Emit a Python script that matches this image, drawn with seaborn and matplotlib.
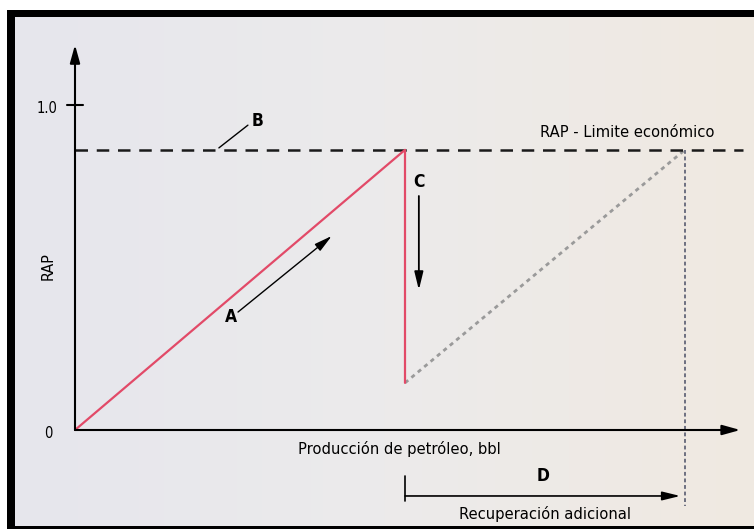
import numpy as np
import pandas as pd
import matplotlib
matplotlib.use("Agg")
import matplotlib.pyplot as plt
from matplotlib.patches import Rectangle
from matplotlib.colors import LinearSegmentedColormap
import seaborn as sns

# ---- data ----
x_red = [0.0, 5.0, 5.0]          # production, actual trend A then drop C
y_red = [0.0, 0.862, 0.145]      # RAP
x_new = [5.0, 9.24]              # new trend after treatment
y_new = [0.145, 0.862]
rap_limit = 0.862                # economic limit (B)
x_limit = 9.24                   # production at which new trend hits limit
ytick_vals = [0.0, 1.0]
ytick_labels = ["0", "1.0"]

sns.set_theme(style="white")
plt.rcParams['font.family'] = ['DejaVu Sans']
plt.rcParams['font.stretch'] = 'condensed'
plt.rcParams['text.color'] = 'black'

W, H = 754, 529
fig = plt.figure(figsize=(W / 100, H / 100), dpi=100)
fig.patch.set_facecolor("white")

# background panel with soft gradient
bg = fig.add_axes([15 / W, 3 / H, (W - 15) / W, (H - 17 - 3) / H])
cmap = LinearSegmentedColormap.from_list("bgc", ["#e6e6ed", "#ecebeb", "#f0e9e1"])
grad = np.linspace(0, 1, 256).reshape(1, -1)
bg.imshow(grad, aspect="auto", cmap=cmap, extent=[0, 1, 0, 1])
bg.set_axis_off()

# black frame pieces
fig.patches.append(Rectangle((7 / W, 0), 8 / W, (H - 10) / H, transform=fig.transFigure,
                             facecolor="black", edgecolor="none", zorder=5))
fig.patches.append(Rectangle((7 / W, (H - 17) / H), (W - 7) / W, 7 / H, transform=fig.transFigure,
                             facecolor="black", edgecolor="none", zorder=5))
fig.patches.append(Rectangle((7 / W, 0), (W - 7) / W, 3 / H, transform=fig.transFigure,
                             facecolor="black", edgecolor="none", zorder=5))

ax = fig.add_axes([0, 0, 1, 1])
ax.patch.set_alpha(0)
ax.set_xlim(-75 / 66, (W - 75) / 66)
ax.set_ylim(-(H - 430) / 325, 430 / 325)
ax.set_axis_off()

# data lines
df_red = pd.DataFrame({"x": x_red, "y": y_red})
df_new = pd.DataFrame({"x": x_new, "y": y_new})
sns.lineplot(data=df_red, x="x", y="y", sort=False, estimator=None, ax=ax,
             color="#e24a68", lw=1.6, zorder=4)
sns.lineplot(data=df_new, x="x", y="y", sort=False, estimator=None, ax=ax,
             color="#9a9a9a", lw=2.0, linestyle=(0, (1.5, 1.5)), zorder=3)

# economic limit line
ax.plot([0, 10.12], [rap_limit, rap_limit], color="#1a1a1a", lw=1.8,
        linestyle=(0, (5, 3.5)), zorder=3)
# vertical dotted line at limit
ax.plot([x_limit, x_limit], [rap_limit, -0.234], color="#4a4f66", lw=1.1,
        linestyle=(0, (2.5, 1.8)), zorder=3)

# axes arrows
arrow_kw = dict(arrowstyle="-|>,head_length=0.9,head_width=0.25", color="black",
                lw=1.5, mutation_scale=12, shrinkA=0, shrinkB=0)
ax.annotate("", xy=(0, 1.185), xytext=(0, 0), arrowprops=arrow_kw, zorder=6)
ax.annotate("", xy=(10.08, 0), xytext=(0, 0), arrowprops=arrow_kw, zorder=6)

small = 10.5
fs = 11.8
# y ticks
for v, lab in zip(ytick_vals, ytick_labels):
    if v > 0:
        ax.plot([-0.12, 0.12], [v, v], color="black", lw=1.5)
        ax.text(-0.26, v - 0.01, lab, ha="right", va="center", fontsize=small)
    else:
        ax.text(-0.41, v - 0.01, lab, ha="center", va="center", fontsize=small)

ax.text(-0.41, 0.505, "RAP", rotation=90, ha="center", va="center", fontsize=11.5)

# labels
ax.text(2.76, 0.951, "B", ha="center", va="center", fontsize=12.5, fontweight="bold")
ax.plot([2.18, 2.62], [0.868, 0.938], color="black", lw=1.0)
ax.text(8.36, 0.914, "RAP - Limite económico", ha="center", va="center", fontsize=fs)

ax.text(5.21, 0.763, "C", ha="center", va="center", fontsize=12.5, fontweight="bold")
ax.annotate("", xy=(5.21, 0.431), xytext=(5.21, 0.72),
            arrowprops=dict(arrowstyle="-|>,head_length=0.9,head_width=0.22", color="black",
                            lw=1.3, mutation_scale=12, shrinkA=0, shrinkB=0))

ax.text(2.36, 0.348, "A", ha="center", va="center", fontsize=12.5, fontweight="bold")
ax.annotate("", xy=(3.89, 0.597), xytext=(2.47, 0.363),
            arrowprops=dict(arrowstyle="-|>,head_length=0.9,head_width=0.22", color="black",
                            lw=1.0, mutation_scale=12, shrinkA=0, shrinkB=0))

ax.text(4.91, -0.058, "Producción de petróleo, bbl", ha="center", va="center", fontsize=fs)

ax.text(7.09, -0.142, "D", ha="center", va="center", fontsize=12.5, fontweight="bold")
ax.annotate("", xy=(9.17, -0.203), xytext=(5.0, -0.203),
            arrowprops=dict(arrowstyle="-|>,head_length=0.9,head_width=0.22", color="black",
                            lw=1.2, mutation_scale=12, shrinkA=0, shrinkB=0))
ax.plot([5.0, 5.0], [-0.142, -0.218], color="black", lw=1.2)
ax.text(7.12, -0.258, "Recuperación adicional", ha="center", va="center", fontsize=fs)

fig.savefig("out.png", dpi=100, facecolor=fig.get_facecolor())
